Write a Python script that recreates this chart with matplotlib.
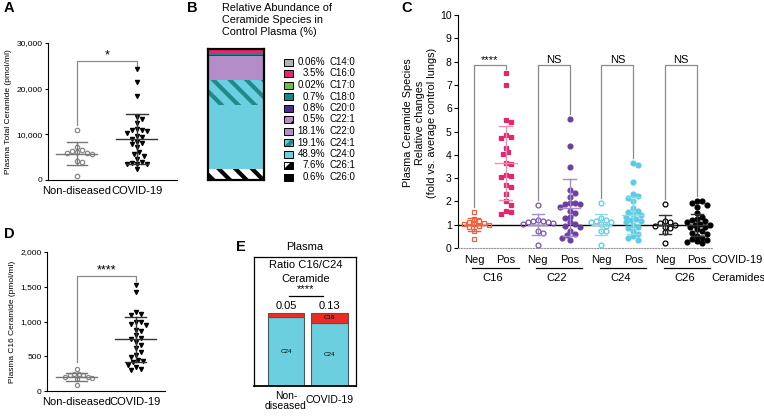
import numpy as np
import matplotlib
matplotlib.use('Agg')
import matplotlib.pyplot as plt
from matplotlib.patches import Rectangle

plt.rcParams['font.family'] = ['Liberation Sans', 'DejaVu Sans']
plt.rcParams['hatch.linewidth'] = 3.0

# ---- panel A: total ceramide (pmol/ml)
a_nd = [11000, 7200, 6600, 6400, 6100, 6000, 5900, 5600, 4200, 4000, 800]
a_cov = [24300, 21400, 18400, 13700, 13400, 12400, 11200, 11000, 10900, 10800,
         10300, 9600, 9400, 9000, 8400, 8200, 7800, 7200, 6200, 5700, 5300,
         4600, 3900, 3700, 3600, 3500, 3400, 2400]
a_mean = [5800, 9000]
a_sd = [2550, 5450]

# ---- panel B: relative abundance in control plasma (%)
b_species = ['C14:0', 'C16:0', 'C17:0', 'C18:0', 'C20:0', 'C22:1', 'C22:0',
             'C24:1', 'C24:0', 'C26:1', 'C26:0']
b_pct = [0.06, 3.5, 0.02, 0.7, 0.8, 0.5, 18.1, 19.1, 48.9, 7.6, 0.6]
b_face = ['#b3b3b3', '#e8246f', '#6abf45', '#0e8c8c', '#4b2a8f', '#b48cc8',
          '#b48cc8', '#6ccfe0', '#6ccfe0', 'white', 'black']
b_hatchcol = [None, None, None, None, None, 'black', None, '#1f8a8c', None, 'black', None]

# ---- panel C: fold change vs control
c_groups = ['C16', 'C22', 'C24', 'C26']
c_neg = [
    [1.55, 1.25, 1.18, 1.1, 1.08, 1.05, 1.02, 1.0, 0.95, 0.88, 0.75, 0.38],
    [1.85, 1.2, 1.17, 1.15, 1.12, 1.1, 1.08, 1.05, 0.75, 0.65, 0.12],
    [1.95, 1.3, 1.2, 1.15, 1.1, 1.1, 1.05, 0.95, 0.75, 0.72, 0.12],
    [1.9, 1.15, 1.1, 1.08, 1.0, 0.95, 0.92, 0.85, 0.7, 0.2],
]
c_pos = [
    [7.5, 7.0, 5.5, 5.42, 4.85, 4.78, 4.7, 4.3, 4.1, 4.05, 3.65, 3.62, 3.15,
     3.08, 3.05, 2.7, 2.6, 2.3, 2.0, 1.85, 1.6, 1.55, 1.45],
    [5.55, 4.38, 3.48, 2.5, 2.35, 2.2, 1.95, 1.92, 1.9, 1.9, 1.75, 1.6, 1.5,
     1.35, 1.3, 1.1, 1.05, 0.95, 0.9, 0.75, 0.62, 0.55, 0.45, 0.35],
    [3.65, 3.55, 2.85, 2.3, 2.25, 2.15, 2.0, 1.7, 1.6, 1.55, 1.45, 1.4, 1.35,
     1.25, 1.2, 1.15, 1.1, 1.0, 0.9, 0.85, 0.75, 0.6, 0.5, 0.45, 0.35],
    [2.02, 2.0, 1.95, 1.85, 1.75, 1.5, 1.35, 1.25, 1.2, 1.15, 1.1, 1.05, 1.0,
     0.98, 0.92, 0.88, 0.8, 0.72, 0.65, 0.6, 0.52, 0.45, 0.4, 0.35, 0.3, 0.25, 0.2],
]
c_neg_mean = [1.0, 1.0, 1.0, 1.0]
c_neg_sd = [0.28, 0.45, 0.46, 0.42]
c_pos_mean = [3.65, 1.73, 1.4, 0.97]
c_pos_sd = [1.58, 1.22, 0.8, 0.47]
c_sig = ['****', 'NS', 'NS', 'NS']
c_neg_col = ['#f4603e', '#7b52ae', '#5ccbe3', 'black']
c_pos_col = ['#e8246f', '#6b3fa0', '#5ccbe3', 'black']
c_err_neg = ['#f4603e', '#a58cd0', '#8fdcec', '#333333']
c_err_pos = ['#f290b4', '#a58cd0', '#8fdcec', '#333333']
c_neg_marker = ['s', 'o', 'o', 'o']
c_pos_marker = ['s', 'o', 'o', 'o']

# ---- panel D: C16 ceramide (pmol/ml)
d_nd = [310, 250, 240, 235, 225, 205, 200, 190, 175, 80]
d_cov = [1530, 1420, 1130, 1110, 1100, 1000, 990, 960, 950, 880, 860, 800,
         760, 750, 700, 660, 620, 560, 520, 490, 450, 430, 420, 380, 340, 320, 300]
d_mean = [200, 742]
d_sd = [62, 320]

# ---- panel E: C16/C24 ratio
e_labels = ['Non-\ndiseased', 'COVID-19']
e_ratio = [0.05, 0.13]

W, H = 764, 416


def px(l, t, r, b):
    return [l / W, 1 - b / H, (r - l) / W, (b - t) / H]


def swarm(ax, vals, d):
    # simple beeswarm in pixel space: each point takes the nearest free column
    bb = ax.get_position()
    x0, x1 = ax.get_xlim()
    y0, y1 = ax.get_ylim()
    xpp = bb.width * W / (x1 - x0)
    ypp = bb.height * H / (y1 - y0)
    vals = np.asarray(vals, dtype=float)
    order = np.argsort(-vals)
    placed = []
    offs = np.zeros(len(vals))
    for i in order:
        y = vals[i] * ypp
        k = 0
        while True:
            cand = 0 if k == 0 else ((k + 1) // 2) * d * 0.5 * (1 if k % 2 else -1)
            if all((cand - px_) ** 2 + (y - py_) ** 2 >= d * d for px_, py_ in placed):
                break
            k += 1
        placed.append((cand, y))
        offs[i] = cand / xpp
    return offs


def draw_group(ax, x, vals, mean, sd, color, marker, filled, ecolor,
               d, ms, mhalf, chalf):
    offs = swarm(ax, vals, d)
    ax.plot(x + offs, vals, ls='none', marker=marker, ms=ms,
            mfc=color if filled else 'none', mec=color, mew=0.9, zorder=3,
            clip_on=False)
    ax.plot([x - mhalf, x + mhalf], [mean, mean], color=ecolor, lw=1, zorder=4)
    ax.plot([x, x], [mean - sd, mean + sd], color=ecolor, lw=1, zorder=4)
    for yy in (mean - sd, mean + sd):
        ax.plot([x - chalf, x + chalf], [yy, yy], color=ecolor, lw=1, zorder=4)


def bracket(ax, x1, x2, y1, y2, top, text, fs, color='#8a8a8a'):
    ax.plot([x1, x1, x2, x2], [y1, top, top, y2], color=color, lw=0.9)
    ax.text((x1 + x2) / 2, top, text, ha='center', va='bottom', fontsize=fs)


def style_dot_axes(ax, fs):
    for s in ['top', 'right']:
        ax.spines[s].set_visible(False)
    ax.spines['left'].set_linewidth(0.8)
    ax.spines['bottom'].set_linewidth(0.8)
    ax.tick_params(axis='y', length=2.5, width=0.8, labelsize=fs, pad=1.5)
    ax.tick_params(axis='x', length=0, labelsize=8, pad=4)


fig = plt.figure(figsize=(7.64, 4.16), dpi=100)

# ---------------- A
axA = fig.add_axes(px(48, 43, 177, 180))
axA.set_xlim(-0.48, 1.67)
axA.set_ylim(0, 30000)
draw_group(axA, 0, a_nd, a_mean[0], a_sd[0], '#888888', 'o', False, '#777777',
           5, 3.2, 0.34, 0.17)
draw_group(axA, 1, a_cov, a_mean[1], a_sd[1], 'black', 'v', True, '#333333',
           5, 3.0, 0.34, 0.18)
bracket(axA, 0, 1, max(a_nd) + 1000, max(a_cov) + 700, 26000, '*', 9)
axA.set_yticks([0, 10000, 20000, 30000])
axA.set_yticklabels(['0', '10,000', '20,000', '30,000'])
axA.set_xticks([0, 1])
axA.set_xticklabels(['Non-diseased', 'COVID-19'])
style_dot_axes(axA, 6)
axA.set_ylabel('Plasma Total Ceramide (pmol/ml)', fontsize=6, labelpad=3)

# ---------------- D
axD = fig.add_axes(px(47, 252, 165, 391))
axD.set_xlim(-0.5, 1.5)
axD.set_ylim(0, 2000)
draw_group(axD, 0, d_nd, d_mean[0], d_sd[0], '#888888', 'o', False, '#777777',
           4.5, 3.0, 0.34, 0.17)
draw_group(axD, 1, d_cov, d_mean[1], d_sd[1], 'black', 'v', True, '#333333',
           5, 3.0, 0.34, 0.18)
bracket(axD, 0, 1, max(d_nd) + 110, max(d_cov) + 50, 1655, '****', 9)
axD.set_yticks([0, 500, 1000, 1500, 2000])
axD.set_yticklabels(['0', '500', '1,000', '1,500', '2,000'])
axD.set_xticks([0, 1])
axD.set_xticklabels(['Non-diseased', 'COVID-19'])
style_dot_axes(axD, 6)
axD.set_ylabel('Plasma C16 Ceramide (pmol/ml)', fontsize=6, labelpad=3)

# ---------------- B
axB = fig.add_axes(px(208, 49, 264, 180))
bottom = 0
for i in range(len(b_pct) - 1, -1, -1):
    hc = b_hatchcol[i]
    axB.bar(0.5, b_pct[i], width=1, bottom=bottom, color=b_face[i],
            edgecolor=hc if hc else b_face[i], lw=0,
            hatch='\\\\' if hc else None)
    bottom += b_pct[i]
axB.set_xlim(0, 1)
axB.set_ylim(0, sum(b_pct))
axB.set_xticks([])
axB.set_yticks([])
for s in axB.spines.values():
    s.set_linewidth(1.6)

# ---------------- C
axC = fig.add_axes(px(458, 15, 713, 248))
axC.set_xlim(-0.5, 7.5)
axC.set_ylim(0, 10)
for g in range(len(c_groups)):
    xn, xp = 2 * g, 2 * g + 1
    draw_group(axC, xn, c_neg[g], c_neg_mean[g], c_neg_sd[g], c_neg_col[g],
               c_neg_marker[g], False, c_err_neg[g], 5, 3.5, 0.3, 0.19)
    draw_group(axC, xp, c_pos[g], c_pos_mean[g], c_pos_sd[g], c_pos_col[g],
               c_pos_marker[g], True, c_err_pos[g], 5, 3.5, 0.34, 0.2)
    bracket(axC, xn, xp, max(c_neg[g]) + 0.2, max(c_pos[g]) + 0.2, 7.85,
            c_sig[g], 8)
axC.axhline(1, color='black', lw=1, zorder=2)
axC.set_yticks(range(11))
axC.set_xticks([])
for s in ['top', 'right']:
    axC.spines[s].set_visible(False)
axC.spines['bottom'].set_linestyle((0, (1, 1.5)))
axC.spines['bottom'].set_color('#999999')
axC.spines['left'].set_linewidth(0.8)
axC.tick_params(axis='y', length=3, width=0.8, labelsize=7.5, pad=1.5)
tr = axC.get_xaxis_transform()
for g, name in enumerate(c_groups):
    xn, xp = 2 * g, 2 * g + 1
    axC.text(xn, -0.05, 'Neg', transform=tr, ha='center', va='center', fontsize=8)
    axC.text(xp, -0.05, 'Pos', transform=tr, ha='center', va='center', fontsize=8)
    axC.plot([xn - 0.05, xp + 0.4], [-0.086, -0.086], transform=tr,
             color='black', lw=0.9, clip_on=False)
    axC.text((xn + xp) / 2 + 0.1, -0.13, name, transform=tr, ha='center',
             va='center', fontsize=8)
axC.text(7.45, -0.05, 'COVID-19', transform=tr, ha='left', va='center', fontsize=8)
axC.text(7.45, -0.13, 'Ceramides', transform=tr, ha='left', va='center', fontsize=8)

# ---------------- E
axE = fig.add_axes(px(254, 257, 356, 386))
xs = np.arange(len(e_ratio))
c16 = np.array(e_ratio)
axE.bar(xs, 1 - c16, width=0.83, color='#6ccfe0', edgecolor='#555555', lw=0.8)
axE.bar(xs, c16, width=0.83, bottom=1 - c16, color='#ee2a24', edgecolor='#555555', lw=0.8)
for x, r in zip(xs, e_ratio):
    axE.text(x, (1 - r) / 2, 'C24', ha='center', va='center', fontsize=4.5)
    axE.text(x, 1.03, f'{r:.2f}', ha='center', va='bottom', fontsize=8)
axE.text(1, 1 - e_ratio[1] / 2, 'C16', ha='center', va='center', fontsize=4.5)
axE.text(0.45, 1.66, 'Ratio C16/C24', ha='center', va='center', fontsize=8)
axE.text(0.45, 1.47, 'Ceramide', ha='center', va='center', fontsize=8)
axE.text(0.45, 1.255, '****', ha='center', va='bottom', fontsize=8)
axE.plot([0.07, 0.85], [1.24, 1.24], color='black', lw=0.9)
axE.set_xlim(-0.736, 1.609)
axE.set_ylim(0, 1.77)
axE.set_xticks([])
axE.set_yticks([])
for s in axE.spines.values():
    s.set_linewidth(0.9)
axE.spines['bottom'].set_linewidth(1.3)
trE = axE.get_xaxis_transform()
axE.text(0, -0.04, e_labels[0], transform=trE, ha='center', va='top',
         fontsize=7.5, linespacing=1.0)
axE.text(1, -0.11, e_labels[1], transform=trE, ha='center', va='center', fontsize=7.5)

# ---------------- overlay: panel letters, titles, legend of B
ov = fig.add_axes([0, 0, 1, 1])
ov.set_xlim(0, W)
ov.set_ylim(H, 0)
ov.axis('off')
for lab, x, y in [('A', 4, 8), ('B', 187, 8), ('C', 401, 8), ('D', 4, 234), ('E', 236, 247)]:
    ov.text(x, y, lab, fontsize=10.5, fontweight='bold', ha='left', va='center')
ov.text(222, 20, 'Relative Abundance of\nCeramide Species in\nControl Plasma (%)',
        fontsize=7.8, ha='left', va='center', linespacing=1.25)
ov.text(420, 123, 'Plasma Ceramide Species\nRelative changes\n(fold vs. average control lungs)',
        fontsize=7.8, ha='center', va='center', rotation=90,
        multialignment='center', linespacing=1.3)
ov.text(305, 247, 'Plasma', fontsize=8, ha='center', va='center')

for i, (sp, p) in enumerate(zip(b_species, b_pct)):
    y = 62 + i * 11.5
    hc = b_hatchcol[i]
    face = b_face[i]
    if sp == 'C26:1':
        face, hc = 'black', 'white'
    ov.add_patch(Rectangle((284, y - 3.5), 9, 7, facecolor=face,
                           edgecolor=hc if hc else face, lw=0,
                           hatch='//' if hc else None))
    ov.add_patch(Rectangle((284, y - 3.5), 9, 7, facecolor='none',
                           edgecolor='black', lw=0.7))
    ov.text(325, y, f'{p:g}%', fontsize=7, ha='right', va='center')
    ov.text(329, y, sp, fontsize=7, ha='left', va='center')

fig.savefig('out.png', dpi=100)
